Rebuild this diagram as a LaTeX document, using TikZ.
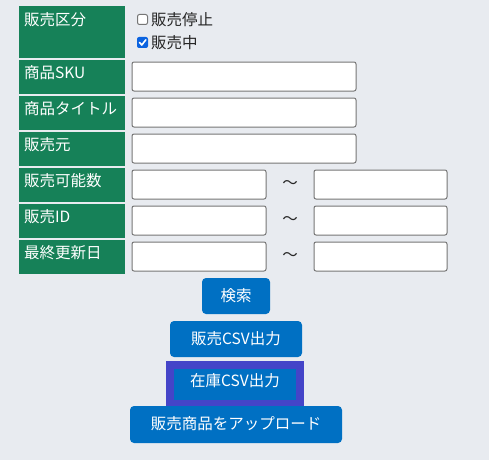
\documentclass[tikz,border=0pt]{standalone}
\usepackage{fontspec}
\setmainfont{Noto Sans CJK JP}
\definecolor{bg}{HTML}{E8EBF0}
\definecolor{lblgreen}{HTML}{168158}
\definecolor{btnblue}{HTML}{0070C3}
\definecolor{focus}{HTML}{4444C8}
\definecolor{inborder}{HTML}{767676}
\definecolor{chkblue}{HTML}{0B63E0}
\tikzset{
  x=1pt, y=-1pt,
  lbl/.style={fill=lblgreen, draw=none},
  lbltext/.style={text=white, anchor=west, inner sep=0pt, font=\fontsize{15.5}{18}\selectfont},
  inbox/.style={fill=white, draw=inborder, line width=1pt, rounded corners=2pt},
  btn/.style={fill=btnblue, rounded corners=4pt},
  btntext/.style={text=white, font=\fontsize{15.5}{18}\selectfont},
  plain/.style={inner sep=0pt, font=\fontsize{15.5}{18}\selectfont, text=black!85}
}
\begin{document}
\begin{tikzpicture}
\fill[bg] (0,0) rectangle (489,460);
\useasboundingbox (0,0) rectangle (489,460);
% label cells
\fill[lbl] (19,6) rectangle (125,58);
\fill[lbl] (19,60) rectangle (125,94);
\fill[lbl] (19,96) rectangle (125,130);
\fill[lbl] (19,132) rectangle (125,166);
\fill[lbl] (19,168) rectangle (125,202);
\fill[lbl] (19,204) rectangle (125,238);
\fill[lbl] (19,240) rectangle (125,274);
\node[lbltext] (l1) at (24,20) {販売区分};
\node[lbltext] (l2) at (24,73) {商品SKU};
\node[lbltext] (l3) at (24,109) {商品タイトル};
\node[lbltext] (l4) at (24,145) {販売元};
\node[lbltext] (l5) at (24,181) {販売可能数};
\node[lbltext] (l6) at (24,217) {販売ID};
\node[lbltext] (l7) at (24,253) {最終更新日};
% checkboxes
\draw[inborder, fill=white, line width=1pt, rounded corners=2pt] (137.5,14.5) rectangle (147.5,24.5);
\node[plain, anchor=west] (c1) at (151,19.5) {販売停止};
\fill[chkblue, rounded corners=2pt] (137,37) rectangle (148,48);
\draw[white, line width=1.6pt, line cap=round, line join=round] (139.5,42.5) -- (141.8,45) -- (145.8,39.8);
\node[plain, anchor=west] (c2) at (151,42.5) {販売中};
% inputs
\draw[inbox] (132,62) rectangle (356,91);
\draw[inbox] (132,98) rectangle (356,127);
\draw[inbox] (132,134) rectangle (356,163);
\draw[inbox] (132,170) rectangle (266,199);
\draw[inbox] (314,170) rectangle (447,199);
\draw[inbox] (132,206) rectangle (266,235);
\draw[inbox] (314,206) rectangle (447,235);
\draw[inbox] (132,242) rectangle (266,271);
\draw[inbox] (314,242) rectangle (447,271);
\node[plain] (t1) at (290,185) {～};
\node[plain] (t2) at (290,221) {～};
\node[plain] (t3) at (290,257) {～};
% buttons
\path[btn] (202,278) rectangle (270,314);
\node[btntext] (b1) at (236,296) {検索};
\path[btn] (170,321) rectangle (302,357);
\node[btntext] (b2) at (236,339) {販売CSV出力};
\fill[focus] (166,361) rectangle (304,407);
\fill[btnblue] (174,369) rectangle (296,400);
\node[btntext] (b3) at (235,381) {在庫CSV出力};
\path[btn] (130,406) rectangle (342,443);
\node[btntext] (b4) at (236,424) {販売商品をアップロード};
\end{tikzpicture}
\end{document}
